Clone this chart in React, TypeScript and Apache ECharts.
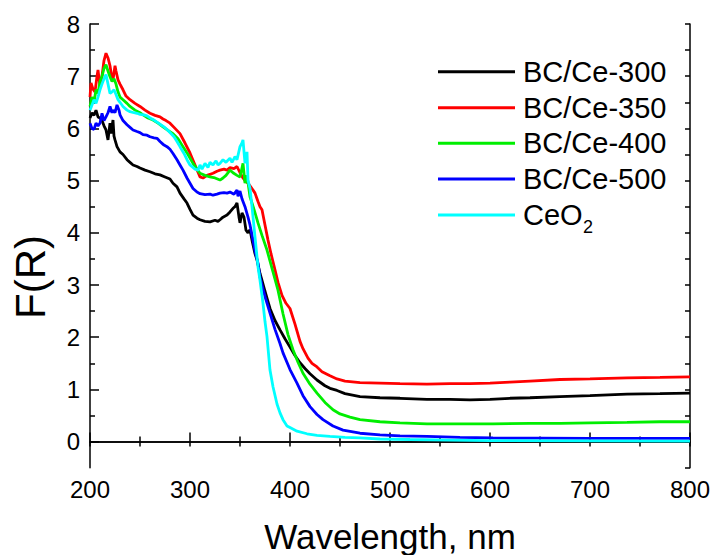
import React, { useEffect, useRef } from "react";
import * as echarts from "echarts";

const seriesNames = ["BC/Ce-300", "BC/Ce-350", "BC/Ce-400", "BC/Ce-500", "CeO2"];
const seriesColors = ["#000000", "#ff0000", "#00ee00", "#0000ff", "#00ffff"];

const xTicks = [200, 300, 400, 500, 600, 700, 800];
const yTicks = [0, 1, 2, 3, 4, 5, 6, 7, 8];
const yHalfTicks = [0.5, 1.5, 2.5, 3.5, 4.5, 5.5, 6.5, 7.5];

const bc300: number[][] = [
  [200, 6.2], [202, 6.3], [204, 6.25], [206, 6.35], [208, 6.22], [210, 6.2], [212, 6.15], [214, 6.05],
  [216, 5.97], [218, 5.78], [220, 6.1], [221, 5.9], [223, 6.16], [224, 5.85], [225, 5.78], [227, 5.65],
  [230, 5.55], [233, 5.5], [237, 5.4], [240, 5.35], [243, 5.3], [247, 5.27], [250, 5.24], [255, 5.2],
  [260, 5.17], [265, 5.13], [270, 5.11], [275, 5.07], [280, 5.03], [283, 4.95], [287, 4.88], [290, 4.76],
  [294, 4.65], [297, 4.57], [300, 4.45], [303, 4.34], [307, 4.28], [310, 4.25], [315, 4.22], [320, 4.21],
  [325, 4.24], [328, 4.22], [330, 4.25], [333, 4.3], [337, 4.34], [340, 4.4], [343, 4.47], [345, 4.5],
  [347, 4.57], [349, 4.3], [350, 4.19], [352, 4.38], [354, 4.3], [356, 4.05], [358, 4.0], [360, 4.06],
  [362, 3.86], [365, 3.6], [367, 3.48], [370, 3.22], [372, 3.09], [375, 2.88], [377, 2.75], [380, 2.55],
  [385, 2.32], [390, 2.14], [395, 1.97], [400, 1.81], [405, 1.65], [410, 1.51], [415, 1.4], [420, 1.3],
  [427, 1.18], [435, 1.07], [440, 1.02], [447, 0.98], [455, 0.92], [470, 0.86], [490, 0.84], [510, 0.83],
  [537, 0.81], [560, 0.81], [580, 0.8], [600, 0.81], [620, 0.83], [640, 0.84], [670, 0.86], [700, 0.88],
  [737, 0.91], [770, 0.92], [800, 0.93],
];

const bc350: number[][] = [
  [200, 6.6], [201, 6.87], [203, 6.75], [205, 6.7], [207, 7.0], [208, 7.12], [210, 6.8], [212, 7.0],
  [214, 7.3], [216, 7.44], [218, 7.35], [220, 7.2], [222, 6.95], [223, 6.93], [225, 7.2], [226, 7.1],
  [228, 6.93], [230, 6.85], [233, 6.74], [236, 6.62], [240, 6.55], [245, 6.48], [250, 6.42], [255, 6.35],
  [260, 6.29], [265, 6.25], [270, 6.22], [273, 6.18], [276, 6.15], [280, 6.1], [285, 6.0], [290, 5.9],
  [295, 5.72], [300, 5.53], [305, 5.3], [310, 5.07], [313, 5.05], [317, 5.1], [320, 5.12], [323, 5.14],
  [327, 5.18], [330, 5.2], [334, 5.22], [337, 5.2], [340, 5.25], [344, 5.23], [347, 5.27], [350, 5.15],
  [353, 5.05], [355, 5.0], [358, 4.95], [360, 4.9], [363, 4.82], [365, 4.76], [368, 4.6], [370, 4.5],
  [372, 4.44], [375, 4.15], [378, 3.86], [381, 3.6], [385, 3.29], [388, 3.05], [392, 2.8], [396, 2.65],
  [400, 2.55], [405, 2.25], [410, 1.92], [413, 1.78], [418, 1.6], [422, 1.5], [427, 1.43], [432, 1.34],
  [440, 1.26], [447, 1.2], [455, 1.16], [470, 1.13], [490, 1.12], [510, 1.11], [537, 1.1], [560, 1.11],
  [580, 1.11], [600, 1.12], [620, 1.14], [640, 1.16], [670, 1.19], [700, 1.2], [737, 1.22], [770, 1.23],
  [800, 1.24],
];

const bc400: number[][] = [
  [200, 6.42], [202, 6.6], [204, 6.5], [206, 6.74], [208, 6.67], [210, 6.9], [212, 7.0], [214, 7.15],
  [216, 7.22], [218, 7.1], [220, 6.99], [222, 6.9], [224, 6.95], [226, 6.85], [228, 6.7], [230, 6.6],
  [233, 6.55], [237, 6.48], [240, 6.42], [245, 6.35], [250, 6.3], [253, 6.26], [258, 6.2], [263, 6.16],
  [268, 6.1], [273, 6.03], [278, 5.96], [283, 5.9], [288, 5.8], [293, 5.65], [298, 5.5], [303, 5.33],
  [307, 5.22], [310, 5.14], [315, 5.1], [320, 5.07], [325, 5.05], [330, 5.01], [333, 5.05], [336, 5.1],
  [340, 5.2], [343, 5.15], [347, 5.1], [350, 5.07], [353, 5.33], [355, 4.95], [357, 5.1], [360, 4.69],
  [364, 4.45], [368, 4.19], [372, 3.95], [377, 3.67], [383, 3.25], [388, 2.9], [393, 2.45], [398, 2.05],
  [403, 1.76], [408, 1.52], [413, 1.31], [420, 1.1], [427, 0.93], [435, 0.75], [443, 0.61], [450, 0.53],
  [460, 0.47], [470, 0.42], [490, 0.38], [510, 0.36], [537, 0.34], [570, 0.34], [603, 0.34], [640, 0.35],
  [670, 0.35], [700, 0.36], [737, 0.37], [770, 0.38], [800, 0.38],
];

const bc500: number[][] = [
  [200, 6.1], [202, 6.0], [204, 5.98], [206, 6.1], [208, 6.05], [210, 6.1], [212, 6.29], [214, 6.15],
  [216, 6.22], [218, 6.3], [220, 6.42], [222, 6.3], [223, 6.35], [225, 6.3], [227, 6.45], [229, 6.35],
  [230, 6.26], [233, 6.15], [237, 6.07], [240, 6.02], [243, 5.97], [247, 5.94], [250, 5.92], [253, 5.88],
  [257, 5.87], [260, 5.84], [264, 5.82], [267, 5.81], [270, 5.75], [274, 5.68], [277, 5.65], [280, 5.6],
  [283, 5.52], [287, 5.4], [290, 5.3], [293, 5.2], [297, 5.05], [300, 4.95], [303, 4.85], [307, 4.78],
  [310, 4.75], [315, 4.73], [320, 4.74], [323, 4.72], [327, 4.74], [330, 4.76], [334, 4.77], [337, 4.76],
  [340, 4.78], [344, 4.74], [347, 4.82], [348, 4.7], [350, 4.8], [352, 4.65], [353, 4.6], [355, 4.5],
  [358, 4.3], [360, 4.15], [363, 3.86], [365, 3.65], [368, 3.42], [370, 3.15], [373, 2.92], [375, 2.78],
  [380, 2.46], [385, 2.15], [390, 1.88], [393, 1.7], [400, 1.38], [407, 1.12], [413, 0.88], [420, 0.67],
  [427, 0.52], [433, 0.42], [443, 0.3], [453, 0.22], [470, 0.16], [490, 0.13], [510, 0.11], [537, 0.1],
  [570, 0.08], [603, 0.07], [650, 0.065], [700, 0.06], [750, 0.06], [800, 0.06],
];

const ceo2: number[][] = [
  [200, 6.35], [202, 6.45], [204, 6.55], [206, 6.48], [208, 6.6], [210, 6.74], [212, 6.85], [214, 6.95],
  [216, 7.03], [218, 6.85], [220, 6.67], [222, 6.7], [224, 6.74], [226, 6.65], [228, 6.55], [230, 6.5],
  [233, 6.42], [237, 6.35], [240, 6.32], [244, 6.3], [247, 6.29], [250, 6.27], [254, 6.26], [257, 6.24],
  [260, 6.2], [264, 6.16], [267, 6.12], [270, 6.08], [274, 6.03], [277, 5.98], [280, 5.92], [284, 5.84],
  [287, 5.75], [290, 5.65], [294, 5.52], [297, 5.4], [300, 5.3], [305, 5.22], [308, 5.2], [310, 5.3],
  [312, 5.22], [315, 5.33], [318, 5.25], [320, 5.35], [323, 5.3], [326, 5.38], [328, 5.3], [330, 5.33],
  [333, 5.4], [336, 5.35], [340, 5.43], [342, 5.35], [345, 5.46], [347, 5.4], [350, 5.65], [352, 5.72],
  [353, 5.78], [355, 5.33], [357, 5.55], [358, 5.01], [360, 4.85], [362, 4.5], [365, 3.92], [368, 3.35],
  [370, 3.09], [373, 2.65], [375, 2.3], [377, 2.01], [380, 1.37], [383, 1.05], [387, 0.72], [390, 0.55],
  [393, 0.42], [397, 0.3], [400, 0.27], [407, 0.2], [417, 0.15], [427, 0.12], [440, 0.1], [455, 0.08],
  [470, 0.07], [490, 0.05], [520, 0.04], [560, 0.03], [600, 0.02], [700, 0.015], [800, 0.01],
];

const seriesData = [bc300, bc350, bc400, bc500, ceo2];

const FONT = "'Liberation Sans', Arial, Helvetica, sans-serif";

export default function App() {
  const ref = useRef<HTMLDivElement>(null);

  useEffect(() => {
    if (!ref.current) return;
    const chart = echarts.init(ref.current, undefined, { renderer: "svg" });

    const axisLine = { show: true, lineStyle: { color: "#000", width: 1.5 } };

    const legendRowsY = [71.7, 107.7, 143.3, 179, 215];
    const legendGraphics: any[] = [];
    seriesNames.forEach((name, i) => {
      const y = legendRowsY[i];
      legendGraphics.push({
        type: "line",
        shape: { x1: 438, y1: y, x2: 515, y2: y },
        style: { stroke: seriesColors[i], lineWidth: 3 },
        silent: true,
      });
      if (name === "CeO2") {
        legendGraphics.push({
          type: "text",
          x: 523,
          y: y,
          style: { text: "CeO", fontSize: 29, fontFamily: FONT, fill: "#000", verticalAlign: "middle", align: "left" },
          silent: true,
        });
        legendGraphics.push({
          type: "text",
          x: 583,
          y: y + 12,
          style: { text: "2", fontSize: 18, fontFamily: FONT, fill: "#000", verticalAlign: "middle", align: "left" },
          silent: true,
        });
      } else {
        legendGraphics.push({
          type: "text",
          x: 523,
          y: y,
          style: { text: name, fontSize: 29, fontFamily: FONT, fill: "#000", verticalAlign: "middle", align: "left" },
          silent: true,
        });
      }
    });

    chart.setOption({
      animation: false,
      backgroundColor: "#ffffff",
      grid: { left: 90, right: 22.3, top: 24, bottom: 87.3, containLabel: false },
      xAxis: [
        {
          type: "value",
          position: "bottom",
          min: 200,
          max: 800,
          interval: 100,
          axisLine,
          axisTick: { show: true, inside: true, length: 9, lineStyle: { color: "#000", width: 1.5 } },
          minorTick: { show: true, splitNumber: 2, length: 5, lineStyle: { color: "#000", width: 1.5 } },
          axisLabel: {
            show: true,
            margin: 10,
            fontSize: 24,
            fontFamily: FONT,
            color: "#000",
            customValues: xTicks,
          },
          splitLine: { show: false },
        },
        {
          type: "value",
          position: "top",
          min: 200,
          max: 800,
          interval: 50,
          axisLine,
          axisTick: { show: true, inside: true, length: 5, lineStyle: { color: "#000", width: 1.5 } },
          axisLabel: { show: false },
          splitLine: { show: false },
        },
      ],
      yAxis: [
        {
          type: "value",
          position: "left",
          min: -0.5,
          max: 8,
          interval: 0.5,
          axisLine,
          axisTick: { show: true, inside: true, length: 9, lineStyle: { color: "#000", width: 1.5 }, customValues: yTicks },
          axisLabel: {
            show: true,
            margin: 10,
            fontSize: 24,
            fontFamily: FONT,
            color: "#000",
            customValues: yTicks,
            formatter: (v: number) => (Number.isInteger(v) ? String(v) : ""),
          },
          splitLine: { show: false },
        },
        {
          type: "value",
          position: "left",
          min: -0.5,
          max: 8,
          interval: 0.5,
          axisLine: { show: false },
          axisTick: { show: true, inside: true, length: 5, lineStyle: { color: "#000", width: 1.5 }, customValues: yHalfTicks },
          axisLabel: { show: false },
          splitLine: { show: false },
        },
        {
          type: "value",
          position: "right",
          min: -0.5,
          max: 8,
          interval: 0.5,
          axisLine,
          axisTick: { show: true, inside: true, length: 5, lineStyle: { color: "#000", width: 1.5 } },
          axisLabel: { show: false },
          splitLine: { show: false },
        },
      ],
      series: seriesNames.map((name, i) => ({
        name,
        type: "line",
        xAxisIndex: 0,
        yAxisIndex: 0,
        data: seriesData[i],
        showSymbol: false,
        symbol: "none",
        smooth: false,
        lineStyle: { color: seriesColors[i], width: 2.8 },
        itemStyle: { color: seriesColors[i] },
        z: 2 + i,
      })),
      graphic: [
        {
          type: "text",
          x: 30,
          y: 277,
          rotation: Math.PI / 2,
          style: { text: "F(R)", fontSize: 42, fontFamily: FONT, fill: "#000", align: "center", verticalAlign: "middle" },
          silent: true,
        },
        {
          type: "text",
          x: 390,
          y: 536,
          style: { text: "Wavelength, nm", fontSize: 35, fontFamily: FONT, fill: "#000", align: "center", verticalAlign: "middle" },
          silent: true,
        },
        ...legendGraphics,
      ],
    });

    return () => {
      chart.dispose();
    };
  }, []);

  return (
    <div
      ref={ref}
      style={{ position: "fixed", left: 0, top: 0, width: 713, height: 555, background: "#fff" }}
    />
  );
}
